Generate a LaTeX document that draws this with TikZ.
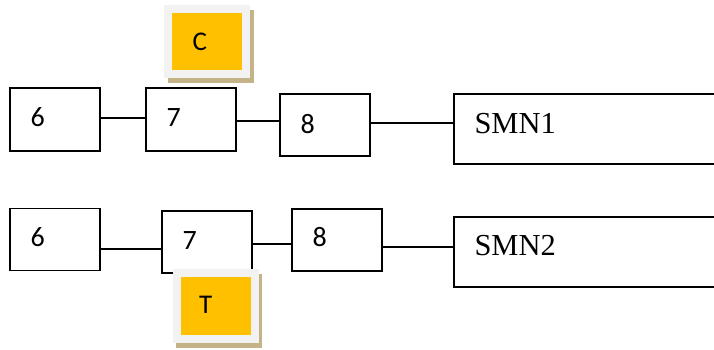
\documentclass[tikz,border=0pt]{standalone}
\usepackage{fontspec}
\setmainfont{Liberation Serif}
\newfontfamily\calib{Carlito}
\usetikzlibrary{backgrounds}
\definecolor{flagfill}{HTML}{FFC000}
\definecolor{flagrim}{HTML}{F2F2F2}
\definecolor{flagshade}{HTML}{C4B386}
\tikzset{
  numbox/.style={draw=black, line width=1.8pt, fill=white, inner xsep=20.5pt, inner ysep=0pt,
    text width=49pt, align=left, minimum width=90pt, minimum height=62pt,
    text height=14.8pt, text depth=0pt, font=\calib\fontsize{28}{28}\selectfont},
  namebox/.style={draw=black, line width=1.8pt, fill=white, inner xsep=20.5pt, inner ysep=0pt,
    text width=259pt, align=left, minimum width=300pt, minimum height=70pt,
    text height=7.4pt, text depth=0pt, font=\fontsize{30.5}{30.5}\selectfont},
  flag/.style={draw=flagrim, fill=flagfill, line width=8pt, inner ysep=0pt, align=left,
    minimum width=78pt, text depth=0pt, font=\calib\fontsize{27}{27}\selectfont},
  wire/.style={line width=1.8pt, draw=black}
}
\begin{document}
\begin{tikzpicture}[x=1pt, y=-1pt]
  \clip (0,0) rectangle (714,349);

  % upper chain
  \node[numbox, minimum height=63pt] (t6) at (55,119.5) {6};
  \node[numbox, minimum height=63pt] (t7) at (191,119.5) {7};
  \node[numbox, text height=16.2pt] (t8) at (325,125.2) {8};
  \node[namebox] (s1) at (604,129.3) {SMN1};

  % lower chain
  \node[numbox] (b6) at (55,239.5) {6};
  \node[numbox, text height=15.2pt] (b7) at (207,241.7) {7};
  \node[numbox, text height=13.7pt] (b8) at (337,239.85) {8};
  \node[namebox, text height=6.6pt] (s2) at (604,251.7) {SMN2};

  % tags above and below the middle boxes
  \node[flag, minimum height=65.5pt, inner xsep=24.7pt, text width=28.6pt, text height=17pt] (ctag) at (207,41.5) {C};
  \node[flag, minimum height=66pt, inner xsep=22pt, text width=34pt, text height=14pt] (ttag) at (216,306) {T};
  \begin{pgfonlayer}{background}
    \fill[white] (0,0) rectangle (714,349);
    \fill[flagshade] ([shift={(4pt,-5pt)}]ctag.north west) rectangle ([shift={(4pt,-5pt)}]ctag.south east);
    \fill[flagshade] ([shift={(3pt,-5pt)}]ttag.north west) rectangle ([shift={(3pt,-5pt)}]ttag.south east);
  \end{pgfonlayer}

  % connectors
  \draw[wire] ([yshift=1.2pt]t6.east) -- ([yshift=1.2pt]t6.east -| t7.west);
  \draw[wire] ([yshift=-1.2pt]t7.east) -- ([yshift=-1.2pt]t7.east -| t8.west);
  \coordinate (u3) at ([yshift=1.9pt]t8.east);
  \draw[wire] (u3) -- (u3 -| s1.west);

  \coordinate (l1) at ([yshift=-9.2pt]b6.east);
  \draw[wire] (l1) -- (l1 -| b7.west);
  \coordinate (l2) at ([yshift=-2.3pt]b7.east);
  \draw[wire] (l2) -- (l2 -| b8.west);
  \coordinate (l3) at ([yshift=-6.85pt]b8.east);
  \draw[wire] (l3) -- (l3 -| s2.west);
\end{tikzpicture}
\end{document}
